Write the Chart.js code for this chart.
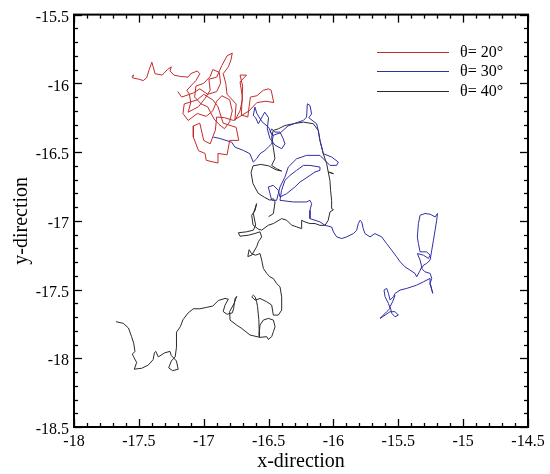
<!DOCTYPE html>
<html><head><meta charset="utf-8">
<script src="https://cdn.jsdelivr.net/npm/chart.js@4"></script>
<style>html,body{margin:0;padding:0;background:#fff}</style>
</head><body>
<canvas id="c" width="550" height="474"></canvas>
<script>
const seriesLabels = ['θ= 20°', 'θ= 30°', 'θ= 40°'];
const seriesColors = ['#c42a2a', '#2e2ea6', '#2a2a2a'];
const xRange = [-18, -14.5];
const yRange = [-18.5, -15.5];
const majorStep = 0.5;
const minorStep = 0.1;

const path20 = [
[-17.555,-15.95],[-17.54,-15.94],[-17.55,-15.96],[-17.50,-15.97],[-17.466,-15.98],[-17.44,-15.96],[-17.42,-15.90],[-17.40,-15.846],
[-17.39,-15.88],[-17.375,-15.93],[-17.32,-15.94],[-17.28,-15.90],[-17.25,-15.88],[-17.26,-15.91],[-17.23,-15.94],[-17.18,-15.95],
[-17.12,-15.955],[-17.10,-15.93],[-17.05,-15.91],[-17.03,-15.93],[-17.06,-15.98],[-17.13,-16.05],[-17.11,-16.08],[-17.10,-16.14],
[-17.12,-16.21],[-17.08,-16.19],[-17.04,-16.17],[-16.99,-16.11],[-16.95,-16.05],[-16.96,-15.97],[-16.90,-15.955],[-16.86,-15.87],
[-16.82,-15.80],[-16.78,-15.78],[-16.79,-15.83],[-16.81,-15.88],[-16.85,-15.93],[-16.83,-16.0],[-16.82,-16.08],[-16.75,-16.15],
[-16.76,-16.27],[-16.72,-16.20],[-16.70,-16.11],[-16.72,-15.99],[-16.67,-15.94],[-16.72,-15.94],[-16.70,-16.02],[-16.71,-16.23],
[-16.66,-16.245],[-16.65,-16.17],[-16.64,-16.10],[-16.59,-16.09],[-16.54,-16.05],[-16.50,-16.04],[-16.48,-16.05],[-16.46,-16.14],
[-16.52,-16.13],[-16.59,-16.14],[-16.65,-16.20],[-16.77,-16.27],[-16.84,-16.25],[-16.90,-16.245],[-16.91,-16.34],[-16.95,-16.44],
[-17.00,-16.415],[-17.03,-16.29],[-17.08,-16.31],[-17.08,-16.39],[-17.04,-16.49],[-16.99,-16.51],[-16.98,-16.56],[-16.89,-16.58],
[-16.89,-16.51],[-16.82,-16.52],[-16.80,-16.415],[-16.73,-16.415],[-16.75,-16.32],[-16.85,-16.29],[-16.89,-16.17],[-16.93,-16.12],
[-17.0,-16.08],[-17.05,-16.12],[-17.15,-16.15],[-17.16,-16.22],[-17.12,-16.27],[-17.05,-16.22],[-16.98,-16.24],[-16.93,-16.20],
[-16.90,-16.13],[-16.86,-16.09],[-16.80,-16.12],[-16.78,-16.20],[-16.80,-16.28],[-16.84,-16.33],[-16.88,-16.30],[-16.92,-16.26],
[-16.97,-16.17],[-17.02,-16.15],[-17.07,-16.10],[-17.06,-16.02],[-17.00,-16.00],[-16.95,-15.95],[-16.93,-15.90],[-16.88,-15.92],
[-16.87,-16.00],[-16.90,-16.06],[-16.97,-16.08],[-17.03,-16.04],[-17.08,-16.07],[-17.17,-16.10],[-17.20,-16.06]
];

const path30 = [
[-16.926,-16.391],[-16.88,-16.40],[-16.785,-16.428],[-16.759,-16.464],[-16.695,-16.488],[-16.644,-16.512],[-16.618,-16.573],[-16.592,-16.549],
[-16.566,-16.512],[-16.528,-16.488],[-16.502,-16.464],[-16.476,-16.44],[-16.464,-16.379],[-16.489,-16.355],[-16.476,-16.331],[-16.451,-16.355],
[-16.412,-16.355],[-16.387,-16.403],[-16.374,-16.44],[-16.399,-16.476],[-16.45,-16.45],[-16.49,-16.40],[-16.51,-16.33],[-16.50,-16.25],
[-16.53,-16.21],[-16.579,-16.294],[-16.60,-16.25],[-16.618,-16.234],[-16.605,-16.173],[-16.59,-16.22],[-16.55,-16.28],[-16.50,-16.32],
[-16.47,-16.38],[-16.41,-16.36],[-16.35,-16.31],[-16.28,-16.285],[-16.232,-16.27],[-16.207,-16.246],[-16.201,-16.149],[-16.181,-16.161],
[-16.168,-16.222],[-16.19,-16.25],[-16.13,-16.294],[-16.117,-16.343],[-16.104,-16.415],[-16.078,-16.512],[-16.014,-16.536],[-15.962,-16.573],
[-15.975,-16.597],[-16.027,-16.597],[-16.104,-16.524],[-16.207,-16.524],[-16.284,-16.549],[-16.348,-16.609],[-16.374,-16.682],[-16.412,-16.754],
[-16.425,-16.803],[-16.438,-16.851],[-16.476,-16.851],[-16.489,-16.803],[-16.502,-16.754],[-16.464,-16.742],[-16.425,-16.778],[-16.412,-16.827],
[-16.361,-16.803],[-16.297,-16.754],[-16.258,-16.718],[-16.219,-16.694],[-16.181,-16.67],[-16.142,-16.645],[-16.104,-16.633],[-16.104,-16.609],
[-16.181,-16.597],[-16.232,-16.597],[-16.284,-16.633],[-16.335,-16.67],[-16.374,-16.706],[-16.40,-16.78],[-16.412,-16.851],[-16.309,-16.863],
[-16.207,-16.863],[-16.181,-16.851],[-16.168,-16.875],[-16.181,-16.924],[-16.181,-16.984],[-16.142,-16.996],[-16.104,-17.008],[-16.065,-17.033],
[-16.014,-17.045],[-16.0,-17.081],[-15.975,-17.117],[-15.936,-17.129],[-15.898,-17.117],[-15.846,-17.093],[-15.821,-17.069],[-15.808,-17.02],
[-15.795,-16.996],[-15.782,-17.008],[-15.77,-17.057],[-15.757,-17.093],[-15.718,-17.117],[-15.68,-17.093],[-15.628,-17.117],[-15.59,-17.166],
[-15.551,-17.214],[-15.513,-17.262],[-15.486,-17.298],[-15.448,-17.335],[-15.409,-17.359],[-15.371,-17.383],[-15.358,-17.407],[-15.337,-17.371],
[-15.319,-17.335],[-15.332,-17.286],[-15.353,-17.238],[-15.306,-17.25],[-15.268,-17.274],[-15.255,-17.25],[-15.281,-17.226],[-15.332,-17.226],
[-15.345,-17.165],[-15.353,-17.117],[-15.345,-17.02],[-15.332,-16.96],[-15.294,-16.947],[-15.255,-16.952],[-15.216,-16.972],[-15.198,-16.947],
[-15.204,-16.996],[-15.216,-17.068],[-15.229,-17.141],[-15.242,-17.214],[-15.255,-17.286],[-15.281,-17.31],[-15.306,-17.323],[-15.319,-17.347],
[-15.294,-17.371],[-15.255,-17.383],[-15.242,-17.419],[-15.255,-17.456],[-15.242,-17.504],[-15.234,-17.528],[-15.25,-17.468],[-15.255,-17.419],
[-15.306,-17.444],[-15.358,-17.468],[-15.435,-17.492],[-15.486,-17.504],[-15.525,-17.528],[-15.538,-17.552],[-15.563,-17.577],[-15.576,-17.528],
[-15.589,-17.492],[-15.61,-17.504],[-15.602,-17.552],[-15.576,-17.601],[-15.563,-17.637],[-15.589,-17.661],[-15.628,-17.698],[-15.641,-17.71],
[-15.602,-17.686],[-15.563,-17.661],[-15.525,-17.661],[-15.499,-17.686],[-15.525,-17.698],[-15.55,-17.673],[-15.563,-17.625],[-15.538,-17.577],
[-15.525,-17.54]
];

const path40 = [
[-17.676,-17.734],[-17.62,-17.746],[-17.58,-17.78],[-17.556,-17.843],[-17.54,-17.89],[-17.53,-17.95],[-17.55,-17.97],[-17.54,-17.99],
[-17.517,-18.03],[-17.535,-18.08],[-17.50,-18.075],[-17.478,-18.073],[-17.427,-18.049],[-17.39,-18.01],[-17.38,-17.96],[-17.37,-17.95],
[-17.35,-17.99],[-17.30,-17.96],[-17.26,-17.95],[-17.25,-17.98],[-17.21,-18.02],[-17.197,-18.08],[-17.24,-18.09],[-17.27,-18.07],
[-17.25,-18.02],[-17.22,-17.99],[-17.21,-17.92],[-17.21,-17.81],[-17.18,-17.77],[-17.16,-17.72],[-17.12,-17.67],[-17.08,-17.64],
[-17.03,-17.64],[-16.978,-17.63],[-16.93,-17.62],[-16.887,-17.58],[-16.836,-17.565],[-16.81,-17.57],[-16.836,-17.614],[-16.85,-17.66],
[-16.82,-17.68],[-16.78,-17.67],[-16.77,-17.64],[-16.758,-17.565],[-16.746,-17.55],[-16.765,-17.6],[-16.80,-17.66],[-16.797,-17.722],
[-16.746,-17.759],[-16.707,-17.783],[-16.643,-17.831],[-16.566,-17.848],[-16.514,-17.843],[-16.502,-17.863],[-16.476,-17.843],[-16.463,-17.807],
[-16.45,-17.771],[-16.463,-17.722],[-16.502,-17.71],[-16.54,-17.722],[-16.566,-17.759],[-16.571,-17.807],[-16.571,-17.843],[-16.575,-17.72],
[-16.585,-17.625],[-16.592,-17.589],[-16.604,-17.553],[-16.617,-17.541],[-16.63,-17.553],[-16.604,-17.577],[-16.566,-17.565],[-16.514,-17.589],
[-16.476,-17.613],[-16.463,-17.686],[-16.425,-17.686],[-16.399,-17.65],[-16.399,-17.553],[-16.412,-17.48],[-16.438,-17.456],[-16.463,-17.42],
[-16.489,-17.408],[-16.514,-17.383],[-16.54,-17.347],[-16.553,-17.286],[-16.566,-17.238],[-16.60,-17.25],[-16.63,-17.24],[-16.65,-17.21],
[-16.66,-17.26],[-16.63,-17.25],[-16.592,-17.189],[-16.579,-17.153],[-16.553,-17.117],[-16.566,-17.08],[-16.604,-17.092],[-16.656,-17.105],
[-16.72,-17.112],[-16.733,-17.087],[-16.669,-17.08],[-16.617,-17.068],[-16.60,-17.03],[-16.617,-16.948],[-16.592,-16.875],[-16.604,-16.924],
[-16.63,-16.96],[-16.62,-17.03],[-16.58,-17.06],[-16.553,-17.068],[-16.502,-17.032],[-16.463,-17.02],[-16.399,-16.984],[-16.36,-16.996],
[-16.322,-17.032],[-16.283,-17.044],[-16.245,-17.057],[-16.245,-16.996],[-16.22,-17.008],[-16.181,-17.02],[-16.142,-17.02],[-16.104,-17.033],
[-16.065,-17.033],[-16.04,-16.996],[-16.027,-16.936],[-16.0,-16.919],[-16.014,-16.912],[-16.014,-16.851],[-16.022,-16.778],[-16.027,-16.706],
[-16.04,-16.645],[-16.0,-16.657],[-16.04,-16.645],[-16.052,-16.585],[-16.078,-16.512],[-16.104,-16.415],[-16.117,-16.343],[-16.155,-16.294],
[-16.232,-16.282],[-16.309,-16.294],[-16.374,-16.307],[-16.425,-16.331],[-16.464,-16.343],[-16.476,-16.391],[-16.464,-16.464],[-16.451,-16.548],
[-16.476,-16.597],[-16.438,-16.621],[-16.399,-16.638],[-16.44,-16.63],[-16.50,-16.60],[-16.56,-16.59],[-16.62,-16.60],[-16.635,-16.65],
[-16.62,-16.73],[-16.58,-16.80],[-16.53,-16.83],[-16.49,-16.85],[-16.463,-16.839],[-16.45,-16.863],[-16.463,-16.948],[-16.50,-16.97]
];

const toXY = p => p.map(([x, y]) => ({x, y}));
const paths = [path20, path30, path40];

const framePlugin = {
  id: 'frame',
  afterDatasetsDraw(chart) {
    const {ctx, chartArea: a, scales: {x, y}} = chart;
    ctx.save();
    ctx.strokeStyle = '#000';
    ctx.lineWidth = 1.3;
    const seg = (x1, y1, x2, y2) => { ctx.beginPath(); ctx.moveTo(x1, y1); ctx.lineTo(x2, y2); ctx.stroke(); };
    const nx = Math.round((xRange[1] - xRange[0]) / minorStep);
    for (let i = 0; i <= nx; i++) {
      const v = xRange[0] + i * minorStep;
      const L = (i % 5 === 0) ? 8 : 4;
      const p = Math.round(x.getPixelForValue(v)) + 0.5;
      seg(p, a.bottom, p, a.bottom - L);
      seg(p, a.top, p, a.top + L);
    }
    const ny = Math.round((yRange[1] - yRange[0]) / minorStep);
    for (let i = 0; i <= ny; i++) {
      const v = yRange[0] + i * minorStep;
      const L = (i % 5 === 0) ? 8 : 4;
      const p = Math.round(y.getPixelForValue(v)) + 0.5;
      seg(a.left, p, a.left + L, p);
      seg(a.right, p, a.right - L, p);
    }
    ctx.lineWidth = 2;
    ctx.strokeRect(a.left, a.top, a.right - a.left, a.bottom - a.top);
    // legend
    const ly = [52, 71, 91];
    ctx.font = '16px "Liberation Serif", serif';
    ctx.textBaseline = 'middle';
    ctx.textAlign = 'left';
    chart.data.datasets.forEach((ds, i) => {
      ctx.strokeStyle = ds.borderColor;
      ctx.lineWidth = 1;
      seg(377, ly[i] + 0.5, 449, ly[i] + 0.5);
      ctx.fillStyle = '#000';
      ctx.fillText(ds.label, 460, ly[i] + 1);
    });
    ctx.restore();
  }
};

const tickFont = {family: '"Liberation Serif", serif', size: 16};
const fmt = v => String(Number(Number(v).toFixed(1)));
new Chart(document.getElementById('c'), {
  type: 'scatter',
  data: {
    datasets: paths.map((p, i) => ({
      label: seriesLabels[i],
      data: toXY(p),
      showLine: true,
      borderColor: seriesColors[i],
      backgroundColor: seriesColors[i],
      borderWidth: 1,
      pointRadius: 0,
      tension: 0
    }))
  },
  options: {
    responsive: false,
    animation: false,
    layout: {padding: {top: 14, right: 22, left: 0, bottom: 0}},
    plugins: {legend: {display: false}, tooltip: {enabled: false}},
    scales: {
      x: {
        type: 'linear', min: xRange[0], max: xRange[1],
        ticks: {stepSize: majorStep, font: tickFont, color: '#000', padding: 5, maxRotation: 0, callback: fmt},
        grid: {display: false, drawTicks: false},
        border: {display: false},
        title: {display: true, text: 'x-direction', color: '#000', font: {family: '"Liberation Serif", serif', size: 20}, padding: {top: 0, bottom: 0}},
        afterFit(s) { s.height = 47; }
      },
      y: {
        type: 'linear', min: yRange[0], max: yRange[1],
        ticks: {stepSize: majorStep, font: tickFont, color: '#000', padding: 5, labelOffset: 3, callback: fmt},
        grid: {display: false, drawTicks: false},
        border: {display: false},
        title: {display: true, text: 'y-direction', color: '#000', font: {family: '"Liberation Serif", serif', size: 20}, padding: {top: 10, bottom: 0}},
        afterFit(s) { s.width = 74; }
      }
    }
  },
  plugins: [framePlugin]
});
</script>
</body></html>
